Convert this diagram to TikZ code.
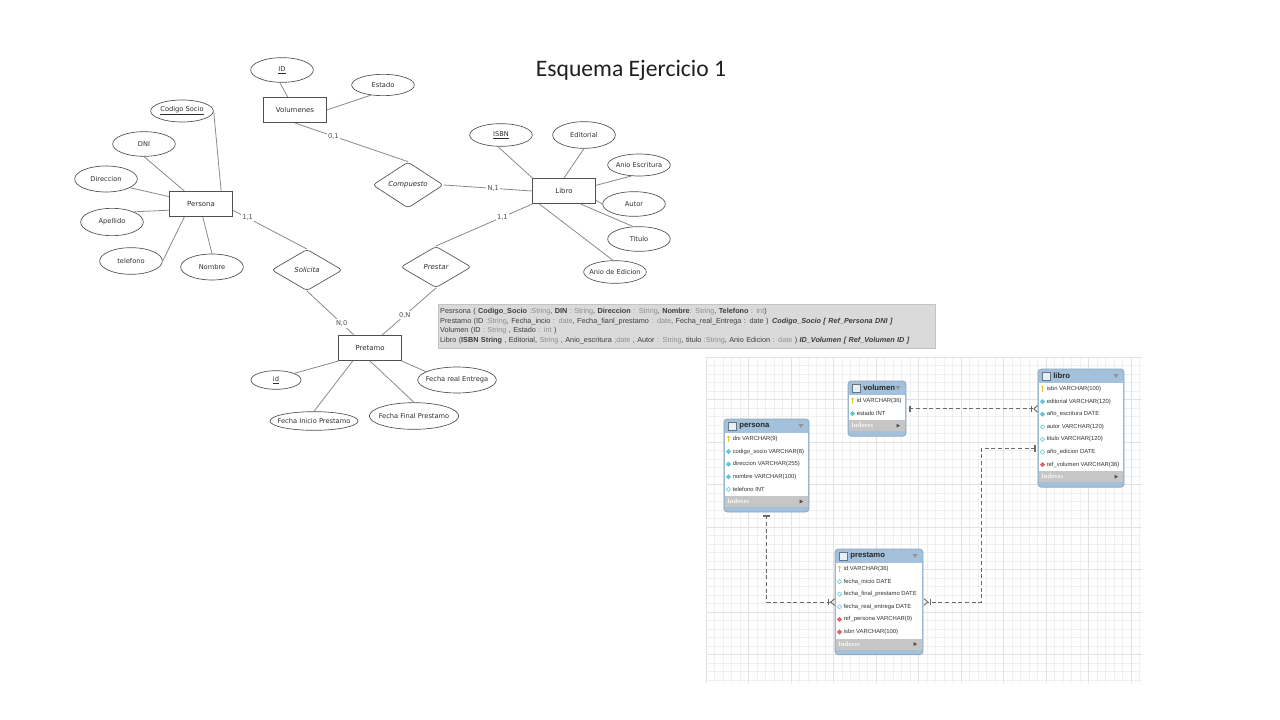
\documentclass[tikz,border=0pt]{standalone}
\usepackage{fontspec}
\setmainfont{DejaVu Sans}
\newfontfamily\titlefont{Carlito}
\newfontfamily\boxfont{Liberation Sans}
\newfontfamily\idxfont{Liberation Serif}
\usetikzlibrary{shapes.geometric,arrows.meta,calc}

\definecolor{erline}{HTML}{8A8A8A}
\definecolor{erdraw}{HTML}{505050}
\definecolor{ertext}{HTML}{2E2E2E}
\definecolor{boxfill}{HTML}{DADADA}
\definecolor{boxtext}{HTML}{3C3C3C}
\definecolor{boxtype}{HTML}{8E8E8E}
\definecolor{tblblue}{HTML}{A3C1DB}
\definecolor{tblline}{HTML}{8DA8C0}
\definecolor{idxgray}{HTML}{C6C6C6}
\definecolor{gridminor}{HTML}{F0F0F0}
\definecolor{gridmajor}{HTML}{E2E2E2}
\definecolor{relline}{HTML}{6A6A6A}
\definecolor{nncol}{HTML}{5CC6D6}
\definecolor{fkcol}{HTML}{E06464}
\definecolor{keycol}{HTML}{F0C02A}

\newcommand{\tipo}[1]{\textcolor{boxtype}{#1}}

% workbench table: name, left x, top y, width, title, rows (fill/draw/text)
\newcommand{\dbtable}[6]{%
  \foreach \r [count=\n] in {#6} {\xdef\tblrows{\n}}
  \pgfmathsetmacro{\tblhb}{#3+14}
  \pgfmathsetmacro{\tblib}{\tblhb+\tblrows*12.6}
  \pgfmathsetmacro{\tbltb}{\tblib+16}
  \fill[tblblue, rounded corners=2.5pt] (#2,#3) rectangle (#2+#4,\tbltb);
  \fill[white] (#2+1,\tblhb) rectangle (#2+#4-1,\tblib);
  \fill[idxgray] (#2+1,\tblib) rectangle (#2+#4-1,\tblib+11);
  \draw[tblline, line width=0.6pt, rounded corners=2.5pt] (#2,#3) rectangle (#2+#4,\tbltb);
  \node[tbl frame, anchor=north west, minimum width=#4*0.75pt,
        minimum height=(\tbltb-#3)*0.75pt] (#1) at (#2,#3) {};
  \draw[fill=white!75!tblblue, draw=tblline!70!black, line width=0.4pt]
    (#2+4,#3+3) rectangle (#2+12,#3+11);
  \node[tbl title, anchor=west] at (#2+15,#3+7) {#5};
  \fill[gray!85] (#2+#4-10.5,#3+5) -- (#2+#4-5.5,#3+5) -- (#2+#4-8,#3+9) -- cycle;
  \foreach \fc/\dc/\txt [count=\i] in {#6} {
    \pgfmathsetmacro{\tblry}{\tblhb+6+(\i-1)*12.6}
    \ifnum\i=1
      \fill[keycol] (#2+4.5,\tblry-2) circle (1.1pt);
      \fill[keycol] (#2+3.9,\tblry-1.5) rectangle (#2+5.1,\tblry+3);
    \else
      \node[col icon, fill=\fc, draw=\dc] at (#2+4.5,\tblry) {};
    \fi
    \node[tbl row, anchor=west] at (#2+8.5,\tblry) {\txt};
  }
  \node[tbl idx, anchor=west] at (#2+3,\tblib+5.5) {Indexes};
  \fill[gray!60!black] (#2+#4-9.5,\tblib+3.5) -- (#2+#4-9.5,\tblib+7.5) -- (#2+#4-6,\tblib+5.5) -- cycle;
}

\tikzset{
  entity/.style={draw=erdraw, fill=white, line width=0.6pt, minimum width=47pt,
    minimum height=19pt, inner sep=0pt, font=\fontsize{5.2}{6}\selectfont, text=ertext},
  attr/.style={ellipse, draw=erdraw, fill=white, line width=0.5pt, minimum width=47pt,
    minimum height=18.5pt, inner xsep=-4pt, inner ysep=0pt, font=\fontsize{5}{6}\selectfont, text=ertext},
  rel/.style={diamond, draw=erdraw, fill=white, line width=0.5pt, rounded corners=2.5pt,
    minimum width=53pt, minimum height=31pt, inner sep=0pt,
    font=\fontsize{5.2}{6}\selectfont\itshape, text=ertext},
  card/.style={fill=white, inner sep=1pt, font=\fontsize{5}{6}\selectfont, text=ertext!85},
  erl/.style={draw=erline, line width=0.6pt},
  tbl frame/.style={inner sep=0pt},
  tbl title/.style={inner sep=0pt, font=\boxfont\bfseries\fontsize{5.8}{7}\selectfont, text=black!85},
  tbl row/.style={inner sep=0pt, font=\boxfont\fontsize{4.4}{5.4}\selectfont, text=black!80},
  tbl idx/.style={inner sep=0pt, font=\idxfont\bfseries\fontsize{5}{6}\selectfont, text=white!92!gray},
  col icon/.style={diamond, minimum size=3.4pt, inner sep=0pt, line width=0.4pt},
  fkline/.style={draw=relline, line width=0.7pt, dash pattern=on 3pt off 2pt,
    {Bar[width=5pt,sep=1.6pt]Bar[width=5pt]}-{Bar[width=5pt,sep=0.8pt]Straight Barb[reversed,length=2.8pt,width=5pt]}},
}

\begin{document}
\begin{tikzpicture}[x=0.75pt,y=-0.75pt]
  \useasboundingbox (0,0) rectangle (1280,720);

  % title
  \node[font=\titlefont\fontsize{17.7}{20}\selectfont, text=black!88] (titulo) at (631,70) {Esquema Ejercicio 1};

  % entidades
  \node[entity] (persona) at (201,204) {Persona};
  \node[entity] (volumenes) at (295,110) {Volumenes};
  \node[entity] (libro) at (564,191) {Libro};
  \node[entity] (pretamo) at (370,348) {Pretamo};

  % relaciones
  \node[rel] (solicita) at (307,270) {Solicita};
  \node[rel] (prestar) at (436,267) {Prestar};
  \node[rel, minimum height=28pt] (compuesto) at (408,185) {Compuesto};

  % atributos persona
  \node[attr, minimum height=16.5pt] (codsocio) at (182,111) {\underline{Codigo Socio}};
  \node[attr] (dni) at (144,144) {DNI};
  \node[attr, minimum height=19.5pt] (direccion) at (106,179) {Direccion};
  \node[attr, minimum height=20.5pt] (apellido) at (112,222) {Apellido};
  \node[attr, minimum height=20pt] (telefono) at (131,261) {telefono};
  \node[attr, minimum height=19.5pt] (nombre) at (212,267) {Nombre};
  \draw[erl] (codsocio.east) -- (persona.33);
  \draw[erl] (dni.south) -- (persona.142);
  \draw[erl] (direccion.-20) -- (persona.167);
  \draw[erl] (apellido.25) -- (persona.191);
  \draw[erl] (telefono.east) -- (persona.218);
  \draw[erl] (nombre.north) -- (persona.-82);

  % atributos volumenes
  \node[attr] (idvol) at (282,70) {\underline{ID}};
  \node[attr, minimum height=16pt] (estado) at (383,85) {Estado};
  \draw[erl] (idvol.-100) -- (volumenes.119);
  \draw[erl] (estado.-140) -- (volumenes.east);

  % atributos libro
  \node[attr, minimum height=17pt] (isbn) at (501,135) {\underline{ISBN}};
  \node[attr, minimum height=20pt] (editorial) at (584,135) {Editorial};
  \node[attr, minimum height=16.5pt] (escritura) at (639,165) {Anio Escritura};
  \node[attr] (autor) at (634,204) {Autor};
  \node[attr] (titulo) at (639,239) {Titulo};
  \node[attr, minimum height=17pt] (edicion) at (615,272) {Anio de Edicion};
  \draw[erl] (isbn.-105) -- (libro.north west);
  \draw[erl] (editorial.south) -- (libro.north);
  \draw[erl] (escritura.-125) -- (libro.10);
  \draw[erl] (autor.west) -- (libro.-16);
  \draw[erl] (titulo.115) -- (libro.-38);
  \draw[erl] (edicion.100) -- (libro.-152);

  % atributos pretamo
  \node[attr, minimum width=37.5pt, minimum height=14pt] (idpre) at (276,380) {\underline{id}};
  \node[attr, minimum width=66pt, minimum height=14pt] (inicio) at (314,421) {Fecha Inicio Prestamo};
  \node[attr, minimum width=67pt, minimum height=20pt] (final) at (414,416) {Fecha Final Prestamo};
  \node[attr, minimum width=59pt, minimum height=19.5pt] (entrega) at (457,380) {Fecha real Entrega};
  \draw[erl] (idpre.20) -- (pretamo.south west);
  \draw[erl] (inicio.north) -- (pretamo.-143);
  \draw[erl] (final.north) -- (pretamo.south);
  \draw[erl] (entrega.165) -- (pretamo.south east);

  % relaciones con cardinalidades
  \draw[erl] (persona.-11) -- node[card, pos=0.2] {1,1} (solicita.north);
  \draw[erl] (solicita.south) -- node[card, pos=0.74] {N,0} (pretamo.141);
  \draw[erl] (prestar.north) -- node[card, pos=0.69] {1,1} (libro.south west);
  \draw[erl] (prestar.south) -- node[card, pos=0.58] {0,N} (pretamo.47);
  \draw[erl] (volumenes.south) -- node[card, pos=0.34] {0,1} (compuesto.north);
  \draw[erl] (compuesto.east) -- node[card, pos=0.56] {N,1} (libro.west);

  % esquema relacional
  \node[anchor=north west, fill=boxfill, draw=boxfill!90!black, line width=0.3pt,
        minimum width=373pt, minimum height=33pt, text width=370pt, align=left,
        inner xsep=1.5pt, inner ysep=0pt, text=boxtext,
        font=\boxfont\fontsize{5.45}{7.1}\selectfont] (esquema) at (438,304) {%
    Pesrsona ( \textbf{Codigo\_Socio} \tipo{:String}, \textbf{DIN} \tipo{: String}, \textbf{Direccion} \tipo{: String}, \textbf{Nombre}\tipo{: String}, \textbf{Telefono} \tipo{: int})\\
    Prestamo (ID \tipo{:String}, Fecha\_incio \tipo{: date}, Fecha\_fianl\_prestamo \tipo{: date}, Fecha\_real\_Entrega : date )\enspace \textbf{\textit{Codigo\_Socio [ Ref\_Persona DNI ]}}\\
    Volumen (ID \tipo{: String} , Estado \tipo{: int} )\\
    Libro (\textbf{ISBN String} , Editorial, \tipo{String} , Anio\_escritura \tipo{;date} , Autor \tipo{: String}, titulo \tipo{:String}, Anio Edicion \tipo{: date} ) \textbf{\textit{ID\_Volumen [ Ref\_Volumen ID ]}}};

  % rejilla del modelo
  \foreach \gx in {706,714.5,...,1142} \draw[gridminor, line width=0.4pt] (\gx,357) -- (\gx,683);
  \foreach \gy in {357,365.5,...,683} \draw[gridminor, line width=0.4pt] (706,\gy) -- (1142,\gy);
  \foreach \gx in {706,748.5,...,1142} \draw[gridmajor, line width=0.4pt] (\gx,357) -- (\gx,683);
  \foreach \gy in {357,399.5,...,683} \draw[gridmajor, line width=0.4pt] (706,\gy) -- (1142,\gy);

  % tablas
  \dbtable{persona tbl}{724}{419}{85}{persona}{keycol/keycol/dni VARCHAR(9),
    nncol/nncol/codigo\_socio VARCHAR(8), nncol/nncol/direccion VARCHAR(255),
    nncol/nncol/nombre VARCHAR(100), white/nncol/telefono INT}
  \dbtable{volumen tbl}{848}{381}{58}{volumen}{keycol/keycol/id VARCHAR(36),
    nncol/nncol/estado INT}
  \dbtable{libro tbl}{1038}{369}{86}{libro}{keycol/keycol/isbn VARCHAR(100),
    nncol/nncol/editorial VARCHAR(120), nncol/nncol/año\_escritura DATE,
    white/nncol/autor VARCHAR(120), white/nncol/titulo VARCHAR(120),
    white/nncol/año\_edicion DATE, fkcol/fkcol/ref\_volumen VARCHAR(36)}
  \dbtable{prestamo tbl}{835}{549}{88}{prestamo}{keycol/keycol/id VARCHAR(36),
    white/nncol/fecha\_inicio DATE, white/nncol/fecha\_final\_prestamo DATE,
    white/nncol/fecha\_real\_entrega DATE, fkcol/fkcol/ref\_persona VARCHAR(9),
    fkcol/fkcol/isbn VARCHAR(100)}

  % relaciones del modelo
  \draw[fkline] (volumen tbl.east) -- (volumen tbl.east -| libro tbl.west);
  \draw[fkline] ([yshift=-15pt]libro tbl.west) -- ++(-57,0) |- (prestamo tbl.east);
  \draw[fkline] (persona tbl.south) |- (prestamo tbl.west);
\end{tikzpicture}
\end{document}
